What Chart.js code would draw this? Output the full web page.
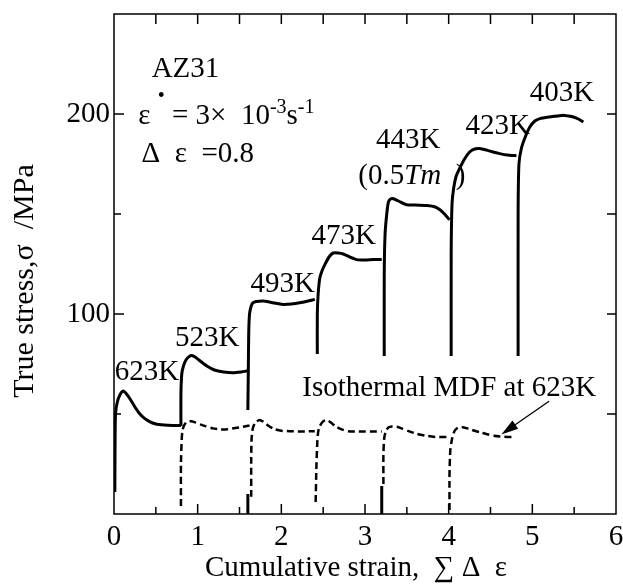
<!DOCTYPE html>
<html>
<head>
<meta charset="utf-8">
<script src="https://cdn.jsdelivr.net/npm/chart.js@4.4.0/dist/chart.umd.min.js"></script>
<style>
  html, body { margin: 0; padding: 0; background: #fff; }
</style>
</head>
<body>
<canvas id="mdfChart" width="623" height="584"></canvas>
<script>
// step-wise MDF, each step at a lower temperature (solid)
var strain623K = [0.01, 0.012, 0.015, 0.02, 0.04, 0.07, 0.11, 0.15, 0.20, 0.25, 0.30, 0.35, 0.42, 0.50, 0.60, 0.70, 0.80];
var stress623K = [11, 30, 45, 51, 56, 59.5, 61.5, 60, 57, 53.5, 50.5, 48.3, 46.3, 45, 44.5, 44.3, 44.3];
var strain523K = [0.80, 0.80, 0.81, 0.83, 0.86, 0.90, 0.93, 0.97, 1.03, 1.11, 1.20, 1.31, 1.42, 1.52, 1.60];
var stress523K = [44, 60, 70, 74, 77, 78.8, 79.3, 78.5, 76.5, 74, 72, 71, 70.6, 71, 71.6];
var strain493Kstub = [1.60, 1.60];
var stress493Kstub = [0, 10];
var strain493K = [1.60, 1.605, 1.61, 1.62, 1.64, 1.66, 1.70, 1.78, 1.88, 2.02, 2.12, 2.22, 2.32, 2.40];
var stress493K = [52, 70, 90, 100, 104, 105.6, 106.2, 106.5, 105.8, 104.8, 105, 105.6, 106.5, 107.3];
var strain473K = [2.43, 2.43, 2.44, 2.46, 2.49, 2.52, 2.57, 2.62, 2.68, 2.74, 2.82, 2.90, 3.00, 3.10, 3.20];
var stress473K = [80, 100, 110, 118, 122, 124.7, 128.5, 130.5, 130.5, 130, 128.5, 127.2, 127, 127.2, 127.2];
var strain443Kstub = [3.20, 3.20];
var stress443Kstub = [0, 14];
var strain443K = [3.23, 3.23, 3.24, 3.26, 3.28, 3.31, 3.34, 3.40, 3.50, 3.60, 3.74, 3.84, 3.90, 3.95, 4.01];
var stress443K = [79, 120, 140, 150, 156, 157.6, 157.6, 156.5, 154.6, 154.5, 154.2, 153.5, 152, 150, 147.1];
var strain423K = [4.03, 4.03, 4.04, 4.06, 4.09, 4.13, 4.19, 4.25, 4.31, 4.37, 4.45, 4.53, 4.61, 4.70, 4.81];
var stress423K = [79, 130, 155, 163, 169, 172.7, 177.5, 181, 182.5, 182.7, 182, 181, 180.2, 179.5, 179.1];
var strain403K = [4.83, 4.83, 4.84, 4.87, 4.92, 4.97, 5.03, 5.09, 5.20, 5.30, 5.37, 5.43, 5.49, 5.55, 5.61];
var stress403K = [79, 150, 175, 183, 189, 193.5, 196.5, 197.7, 198.5, 199, 199.4, 199, 198.5, 197.5, 196];

// isothermal MDF at 623K (dashed), one pass per array
var strainIso1 = [0.80, 0.80, 0.81, 0.82, 0.84, 0.87, 0.92, 0.97, 1.03, 1.10, 1.18, 1.27, 1.36, 1.45, 1.54, 1.62];
var stressIso1 = [4, 25, 38, 42, 44.5, 46, 46.4, 45.8, 44.8, 43.8, 42.8, 42.3, 42.4, 43, 43.6, 44.3];
var strainIso2 = [1.64, 1.64, 1.645, 1.66, 1.69, 1.74, 1.79, 1.85, 1.92, 2.00, 2.10, 2.20, 2.30, 2.40];
var stressIso2 = [8.6, 28, 38, 43, 45.8, 47, 46, 44, 42.4, 41.6, 41.4, 41.3, 41.3, 41.4];
var strainIso3 = [2.41, 2.42, 2.43, 2.44, 2.46, 2.50, 2.54, 2.59, 2.65, 2.72, 2.80, 2.90, 3.00, 3.10, 3.20];
var stressIso3 = [6, 25, 36, 41, 44, 46.3, 47, 45.8, 43.8, 42.3, 41.4, 41.3, 41.3, 41.3, 41.3];
var strainIso4 = [3.22, 3.22, 3.23, 3.25, 3.28, 3.32, 3.38, 3.45, 3.53, 3.62, 3.72, 3.82, 3.92, 4.00];
var stressIso4 = [15, 30, 38, 41.5, 43.2, 43.8, 43.6, 42.6, 41.3, 40.1, 39.2, 38.6, 38.5, 38.5];
var strainIso5 = [4.01, 4.01, 4.02, 4.04, 4.07, 4.11, 4.17, 4.24, 4.31, 4.38, 4.46, 4.54, 4.62, 4.70, 4.77];
var stressIso5 = [2, 20, 32, 37.5, 41.5, 43.2, 43.4, 42.6, 41.6, 40.8, 39.9, 39.1, 38.7, 38.5, 38.5];

// axis ticks
var xTickValues = [0.5, 1, 1.5, 2, 2.5, 3, 3.5, 4, 4.5, 5, 5.5];
var yTickValues = [50, 100, 150, 200];
var yLabelled = [100, 200];

// temperature labels (left x, baseline y in data units)
var tempText = ['623K', '523K', '493K', '473K', '443K', '423K', '403K'];
var tempX = [0.01, 0.73, 1.63, 2.36, 3.13, 4.20, 4.97];
var tempY = [67, 84, 111, 135, 183, 190, 206.5];

// arrow to the isothermal curve
var arrowFrom = [5.20, 56.4];
var arrowTo = [4.63, 39.8];

var FONT = '"Liberation Serif", "Times New Roman", serif';

function pts(xs, ys) {
    return xs.map(function (x, i) { return { x: x, y: ys[i] }; });
}

function solid(xs, ys) {
    return { data: pts(xs, ys), borderColor: '#000', borderWidth: 3, tension: 0.2 };
}

function dashed(xs, ys) {
    return { data: pts(xs, ys), borderColor: '#000', borderWidth: 2.5, borderDash: [7, 4], tension: 0.2 };
}

// draws a row of text pieces, each {t, size, dy, italic}
function drawRuns(ctx, x, y, runs) {
    runs.forEach(function (r) {
        ctx.font = (r.italic ? 'italic ' : '') + (r.size || 29) + 'px ' + FONT;
        ctx.fillText(r.t, x, y - (r.dy || 0));
        x += ctx.measureText(r.t).width;
    });
}

var framePlugin = {
    id: 'frame',
    afterDatasetsDraw: function (chart) {
        var ctx = chart.ctx, a = chart.chartArea;
        var xs = chart.scales.x, ys = chart.scales.y;
        ctx.save();
        ctx.strokeStyle = '#000';
        ctx.lineWidth = 1.5;
        ctx.strokeRect(a.left, a.top, a.right - a.left, a.bottom - a.top);

        // ticks point inward on all four sides
        ctx.beginPath();
        xTickValues.forEach(function (v) {
            var px = xs.getPixelForValue(v);
            var len = v % 1 === 0 ? 10 : 7;
            ctx.moveTo(px, a.bottom); ctx.lineTo(px, a.bottom - len);
            ctx.moveTo(px, a.top); ctx.lineTo(px, a.top + 10);
        });
        yTickValues.forEach(function (v) {
            var py = ys.getPixelForValue(v);
            var len = v % 100 === 0 ? 10 : 7;
            ctx.moveTo(a.left, py); ctx.lineTo(a.left + len, py);
            ctx.moveTo(a.right, py); ctx.lineTo(a.right - 9, py);
        });
        ctx.stroke();

        // arrow
        var x0 = xs.getPixelForValue(arrowFrom[0]), y0 = ys.getPixelForValue(arrowFrom[1]);
        var x1 = xs.getPixelForValue(arrowTo[0]), y1 = ys.getPixelForValue(arrowTo[1]);
        var ang = Math.atan2(y1 - y0, x1 - x0);
        ctx.lineWidth = 1.3;
        ctx.beginPath();
        ctx.moveTo(x0, y0);
        ctx.lineTo(x1 - 12 * Math.cos(ang), y1 - 12 * Math.sin(ang));
        ctx.stroke();
        ctx.fillStyle = '#000';
        ctx.beginPath();
        ctx.moveTo(x1, y1);
        ctx.lineTo(x1 - 17 * Math.cos(ang) + 5 * Math.sin(ang), y1 - 17 * Math.sin(ang) - 5 * Math.cos(ang));
        ctx.lineTo(x1 - 17 * Math.cos(ang) - 5 * Math.sin(ang), y1 - 17 * Math.sin(ang) + 5 * Math.cos(ang));
        ctx.closePath();
        ctx.fill();

        // text
        ctx.fillStyle = '#000';
        ctx.textBaseline = 'alphabetic';
        ctx.textAlign = 'left';
        ctx.font = '29px ' + FONT;
        tempText.forEach(function (t, i) {
            ctx.fillText(t, xs.getPixelForValue(tempX[i]), ys.getPixelForValue(tempY[i]));
        });
        function at(xv, yv, runs) {
            drawRuns(ctx, xs.getPixelForValue(xv), ys.getPixelForValue(yv), runs);
        }
        at(2.92, 165, [{ t: '(0.5' }, { t: 'Tm', italic: true }, { t: '  )' }]);
        at(0.45, 218.5, [{ t: 'AZ31' }]);
        at(0.29, 194.9, [{ t: 'ε ' }, { t: '•', size: 20, dy: 22 }, { t: ' = 3×  10' },
            { t: '-3', size: 20, dy: 11 }, { t: 's' }, { t: '-1', size: 20, dy: 11 }]);
        at(0.33, 175.8, [{ t: 'Δ  ε  =0.8' }]);
        at(2.25, 58.9, [{ t: 'Isothermal MDF at 623K' }]);

        // axis titles
        ctx.font = '29px ' + FONT;
        ctx.textAlign = 'center';
        ctx.textBaseline = 'middle';
        ctx.fillText('Cumulative strain,  ∑ Δ  ε', (a.left + a.right) / 2 - 9, a.bottom + 54);
        ctx.font = '30px ' + FONT;
        ctx.translate(a.left - 89, (a.top + a.bottom) / 2 + 17);
        ctx.rotate(-Math.PI / 2);
        ctx.fillText('True stress,σ  /MPa', 0, 0);
        ctx.restore();
    }
};

var ctx = document.getElementById('mdfChart');
var mdfChart = new Chart(ctx, {
    type: 'scatter',
    data: {
        datasets: [
            solid(strain623K, stress623K),
            solid(strain523K, stress523K),
            solid(strain493Kstub, stress493Kstub),
            solid(strain493K, stress493K),
            solid(strain473K, stress473K),
            solid(strain443Kstub, stress443Kstub),
            solid(strain443K, stress443K),
            solid(strain423K, stress423K),
            solid(strain403K, stress403K),
            dashed(strainIso1, stressIso1),
            dashed(strainIso2, stressIso2),
            dashed(strainIso3, stressIso3),
            dashed(strainIso4, stressIso4),
            dashed(strainIso5, stressIso5)
        ].map(function (d) {
            d.showLine = true;
            d.pointRadius = 0;
            d.fill = false;
            return d;
        })
    },
    options: {
        responsive: false,
        animation: false,
        devicePixelRatio: 1,
        events: [],
        layout: { padding: { top: 14, right: 7, left: 0, bottom: 0 } },
        plugins: { legend: { display: false }, tooltip: { enabled: false } },
        scales: {
            x: {
                type: 'linear',
                min: 0,
                max: 6,
                grid: { display: false, drawTicks: false },
                border: { display: false },
                ticks: { stepSize: 1, color: '#000', padding: 6, font: { family: FONT, size: 29 } },
                afterFit: function (scale) {
                    scale.height = 70;
                    scale.paddingLeft = 0;
                    scale.paddingRight = 0;
                }
            },
            y: {
                min: 0,
                max: 250,
                grid: { display: false, drawTicks: false },
                border: { display: false },
                ticks: {
                    stepSize: 50,
                    color: '#000',
                    padding: 4,
                    font: { family: FONT, size: 29 },
                    callback: function (v) { return yLabelled.indexOf(v) >= 0 ? v : null; }
                },
                afterFit: function (scale) {
                    scale.width = 114;
                    scale.paddingTop = 0;
                    scale.paddingBottom = 0;
                }
            }
        }
    },
    plugins: [framePlugin]
});
</script>
</body>
</html>
